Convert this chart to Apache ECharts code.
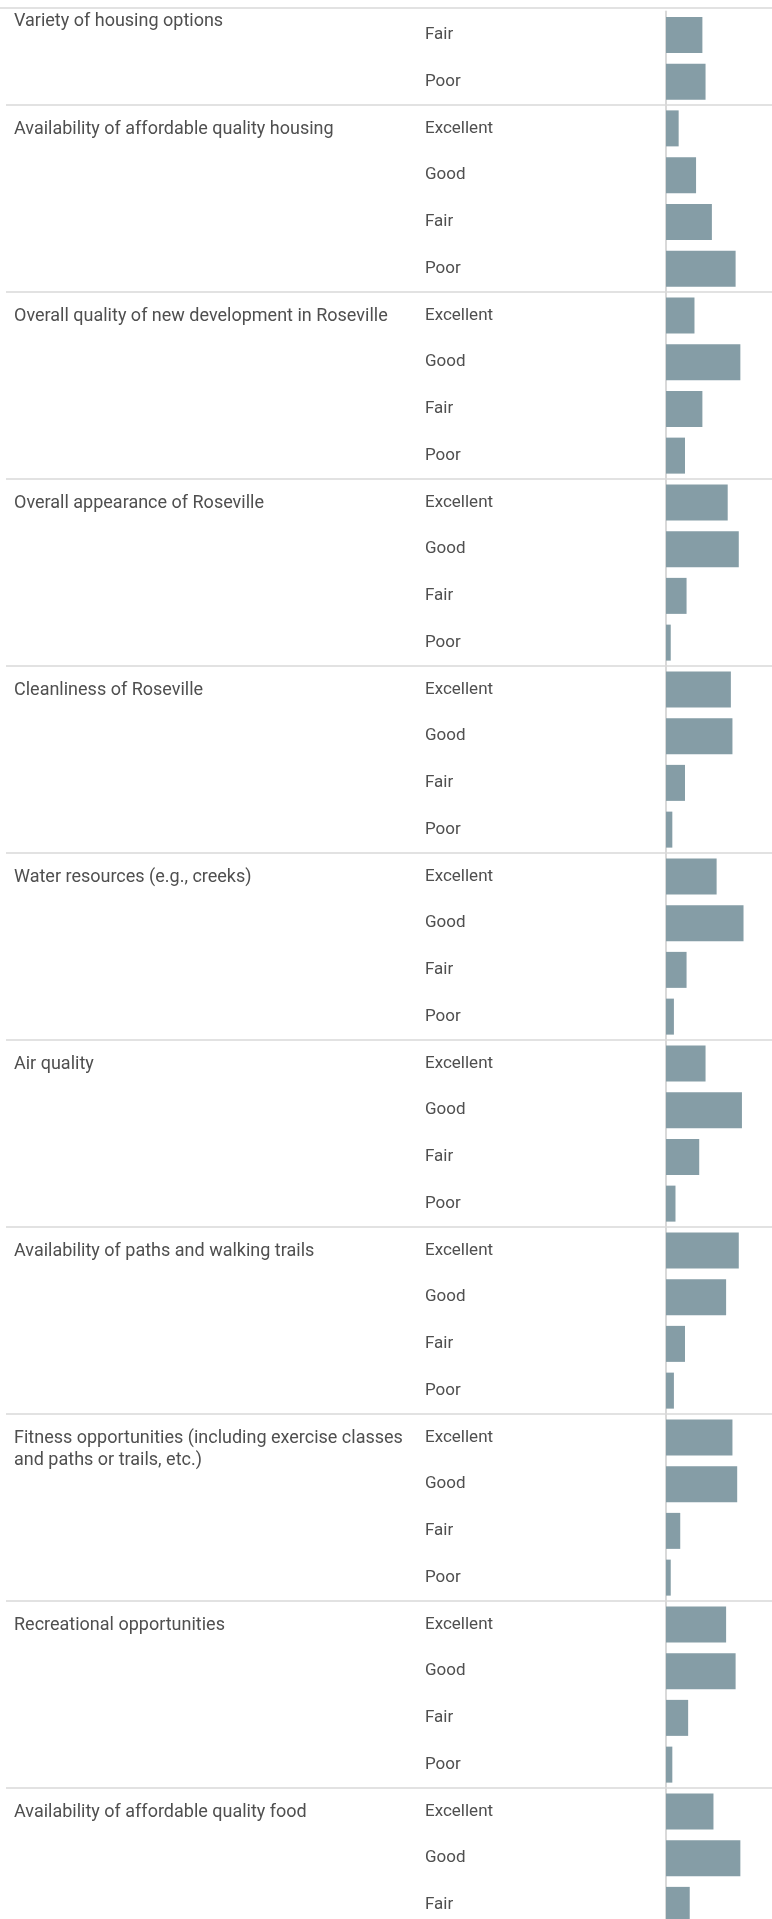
<!DOCTYPE html>
<html>
<head>
<meta charset="utf-8">
<script src="https://cdn.jsdelivr.net/npm/echarts@6/dist/echarts.min.js"></script>
<style>
  html, body { margin: 0; padding: 0; background: #fff; }
  #chart { width: 772px; height: 1919px; }
</style>
</head>
<body>
<div id="chart"></div>
<script>
const ratings = ['Excellent', 'Good', 'Fair', 'Poor']

const groupNames = [
  'Variety of housing options',
  'Availability of affordable quality housing',
  'Overall quality of new development in Roseville',
  'Overall appearance of Roseville',
  'Cleanliness of Roseville',
  'Water resources (e.g., creeks)',
  'Air quality',
  'Availability of paths and walking trails',
  'Fitness opportunities (including exercise classes\nand paths or trails, etc.)',
  'Recreational opportunities',
  'Availability of affordable quality food'
]

// % of responses per rating (Excellent, Good, Fair, Poor)
// null = row scrolled out of the view
const varietyHousing = [null, null, 23, 25]
const affordableHousing = [8, 19, 29, 44]
const newDevelopment = [18, 47, 23, 12]
const appearance = [39, 46, 13, 3]
const cleanliness = [41, 42, 12, 4]
const waterResources = [32, 49, 13, 5]
const airQuality = [25, 48, 21, 6]
const pathsTrails = [46, 38, 12, 5]
const fitness = [42, 45, 9, 3]
const recreation = [38, 44, 14, 4]
const affordableFood = [30, 47, 15, null]

const groupValues = [
  varietyHousing, affordableHousing, newDevelopment, appearance, cleanliness,
  waterResources, airQuality, pathsTrails, fitness, recreation, affordableFood
]

// flatten into one row per bar
const rows = []
groupNames.forEach((name, g) => {
  let first = true
  ratings.forEach((r, k) => {
    const v = groupValues[g][k]
    if (v === null) return
    rows.push({ key: g + '|' + r, group: g, rating: r, value: v, first: first })
    first = false
  })
})
const keys = rows.map(r => r.key)

const rowH = 46.75
const gridTop = 11.5
const gridH = rows.length * rowH

const font = 'Roboto'
const textColor = '#4f4f4f'
const lineColor = '#d9d9d9'

const chart = echarts.init(document.getElementById('chart'))
chart.setOption({
  animation: false,
  backgroundColor: '#ffffff',
  // first group label stays pinned at the top of the scrolled pane
  title: {
    text: groupNames[0],
    left: 14,
    top: 11,
    padding: 0,
    textStyle: { fontFamily: font, fontSize: 18, fontWeight: 'normal', color: textColor, lineHeight: 21 }
  },
  graphic: [{
    type: 'line',
    shape: { x1: 0, y1: 8, x2: 772, y2: 8 },
    style: { stroke: lineColor, lineWidth: 1.5 },
    silent: true
  }],
  grid: [
    { left: 6, right: 0, top: gridTop, height: gridH, containLabel: false, outerBoundsMode: 'none' },
    { left: 666, right: 0, top: gridTop, height: gridH, containLabel: false, outerBoundsMode: 'none' }
  ],
  xAxis: [
    { gridIndex: 0, type: 'value', show: false, min: 0, max: 1 },
    { gridIndex: 1, type: 'value', show: false, min: 0, max: 67 }
  ],
  yAxis: [
    {
      // group separators across the whole table
      gridIndex: 0,
      type: 'category',
      inverse: true,
      data: keys,
      axisLine: { show: false },
      axisTick: { show: false },
      axisLabel: { show: false },
      splitLine: {
        show: true,
        interval: (i) => i > 0 && i < rows.length && rows[i].first,
        lineStyle: { color: lineColor, width: 1.5 }
      }
    },
    {
      // rating labels + the axis line left of the bars
      gridIndex: 1,
      type: 'category',
      position: 'left',
      inverse: true,
      data: keys,
      axisLine: { show: true, lineStyle: { color: lineColor, width: 2 } },
      axisTick: { show: false },
      splitLine: { show: false },
      axisLabel: {
        interval: 0,
        align: 'left',
        margin: 241,
        padding: [2, 0, 0, 0],
        fontFamily: font,
        fontSize: 17,
        color: textColor,
        formatter: (v, i) => rows[i].rating
      }
    },
    {
      // group names, on the first row of each group
      gridIndex: 1,
      type: 'category',
      position: 'left',
      inverse: true,
      data: keys,
      axisLine: { show: false },
      axisTick: { show: false },
      splitLine: { show: false },
      axisLabel: {
        interval: 0,
        align: 'left',
        verticalAlign: 'top',
        margin: 652,
        lineHeight: 22,
        padding: [-10, 0, 0, 0],
        fontFamily: font,
        fontSize: 18,
        color: textColor,
        formatter: (v, i) => (rows[i].first && rows[i].group > 0) ? groupNames[rows[i].group] : ''
      }
    }
  ],
  series: [{
    type: 'bar',
    xAxisIndex: 1,
    yAxisIndex: 1,
    barWidth: 36,
    silent: true,
    itemStyle: { color: '#859da6' },
    data: rows.map(r => r.value)
  }]
})
</script>
</body>
</html>
